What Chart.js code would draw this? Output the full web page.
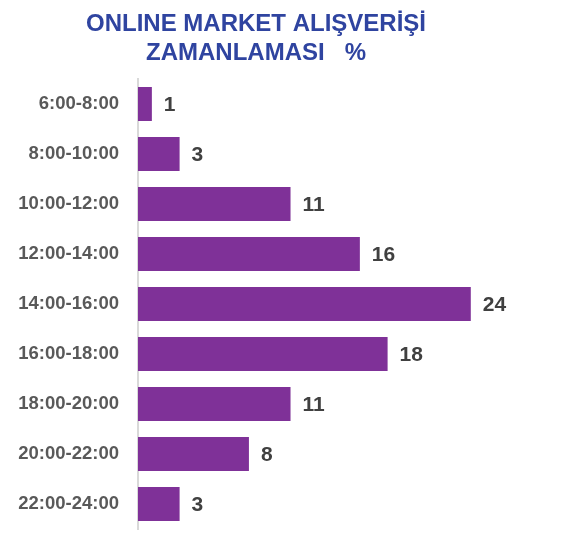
<!DOCTYPE html>
<html>
<head>
<meta charset="utf-8">
<script src="https://cdn.jsdelivr.net/npm/chart.js@4/dist/chart.umd.min.js"></script>
<style>
  html, body { margin: 0; padding: 0; background: #fff; }
  #wrap { width: 578px; height: 552px; position: relative; }
</style>
</head>
<body>
<div id="wrap"><canvas id="timingChart"></canvas></div>
<script>
// ---- data ----
const titleLines = ["ONLINE MARKET ALIŞVERİŞİ", "ZAMANLAMASI   %"];
const timeSlots = [
  "6:00-8:00", "8:00-10:00", "10:00-12:00", "12:00-14:00", "14:00-16:00",
  "16:00-18:00", "18:00-20:00", "20:00-22:00", "22:00-24:00"
];
const shares = [1, 3, 11, 16, 24, 18, 11, 8, 3];

const BAR_COLOR = "#7F3198";
const TITLE_COLOR = "#2F44A0";

// title drawn as two centred lines above the plot
const titlePlugin = {
  id: "twoLineTitle",
  afterDraw(chart) {
    const ctx = chart.ctx;
    ctx.save();
    ctx.font = "bold 24px 'Liberation Sans', Arial, sans-serif";
    ctx.fillStyle = TITLE_COLOR;
    ctx.textAlign = "center";
    ctx.textBaseline = "middle";
    titleLines.forEach((line, i) => {
      ctx.fillText(line, 256, 24 + i * 29);
    });
    ctx.restore();
  }
};

// value labels at the end of each bar
const valueLabels = {
  id: "valueLabels",
  afterDatasetsDraw(chart) {
    const ctx = chart.ctx;
    const meta = chart.getDatasetMeta(0);
    ctx.save();
    ctx.font = "bold 21px 'Liberation Sans', Arial, sans-serif";
    ctx.fillStyle = "#404040";
    ctx.textAlign = "left";
    ctx.textBaseline = "middle";
    meta.data.forEach((bar, i) => {
      ctx.fillText(String(shares[i]), bar.x + 12, bar.y + 1);
    });
    ctx.restore();
  }
};

new Chart(document.getElementById("timingChart"), {
  type: "bar",
  data: {
    labels: timeSlots,
    datasets: [{
      data: shares,
      backgroundColor: BAR_COLOR,
      barPercentage: 0.68,
      categoryPercentage: 1,
    }]
  },
  options: {
    indexAxis: "y",
    responsive: true,
    maintainAspectRatio: false,
    animation: false,
    layout: { padding: { top: 79, bottom: 23, left: 0, right: 24 } },
    plugins: {
      legend: { display: false },
      title: { display: false },
      tooltip: { enabled: false },
    },
    scales: {
      x: {
        display: false,
        min: 0,
        max: 30,
      },
      y: {
        grid: { display: false, drawTicks: false },
        border: { display: true, color: "#D9D9D9", width: 2 },
        ticks: {
          padding: 19,
          color: "#595959",
          font: { family: "'Liberation Sans', Arial, sans-serif", size: 18.5, weight: "bold" },
        },
        afterFit(scale) {
          scale.width = 138;
          scale.paddingTop = 0;
          scale.paddingBottom = 0;
        },
      }
    }
  },
  plugins: [titlePlugin, valueLabels]
});
</script>
</body>
</html>
